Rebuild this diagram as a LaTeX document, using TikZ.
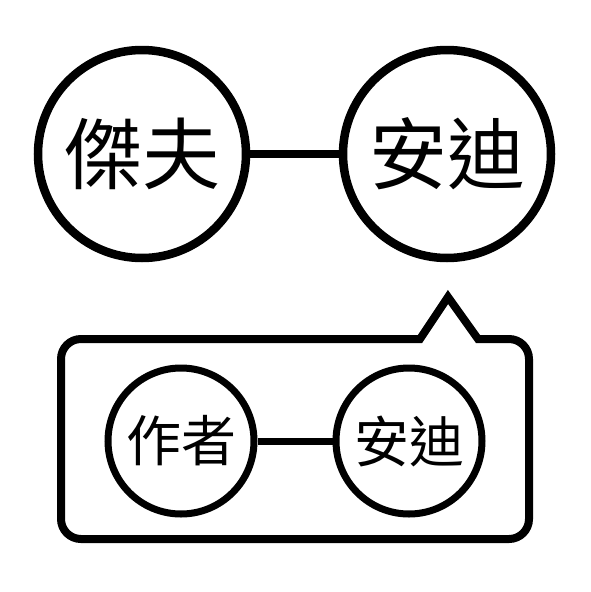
\documentclass[tikz,border=0pt]{standalone}
\usepackage{fontspec}
\newfontfamily\cjk{Noto Sans CJK TC}
\usetikzlibrary{positioning}

\begin{document}
\begin{tikzpicture}[x=1pt,y=-1pt,big/.style={circle,draw,line width=8.5pt,minimum size=208pt,inner sep=0pt,font=\cjk\fontsize{78}{78}\selectfont},small/.style={circle,draw,line width=7pt,minimum size=146pt,inner sep=0pt,font=\cjk\fontsize{55}{55}\selectfont},biglink/.style={line width=8.5pt},smalllink/.style={line width=7pt}]
    \useasboundingbox (0,0) rectangle (591,592);
    % top pair
    \node[big] (jeff) at (142,154) {傑夫};
    \node[big] (andy) at (447,154) {安迪};
    \draw[biglink] (jeff) -- (andy);
    % speech bubble
    \draw[line width=8pt] (420,339) -- (448,297) -- (478,339) -- (509,339)
      arc[start angle=90,end angle=0,radius=20pt] -- (529,519)
      arc[start angle=0,end angle=-90,radius=20pt] -- (81,539)
      arc[start angle=270,end angle=180,radius=20pt] -- (61,359)
      arc[start angle=180,end angle=90,radius=20pt] -- cycle;
    % bottom pair
    \node[small] (author) at (181,441) {作者};
    \node[small] (andy2) at (409,441) {安迪};
    \draw[smalllink] (author) -- (andy2);
\end{tikzpicture}
\end{document}
